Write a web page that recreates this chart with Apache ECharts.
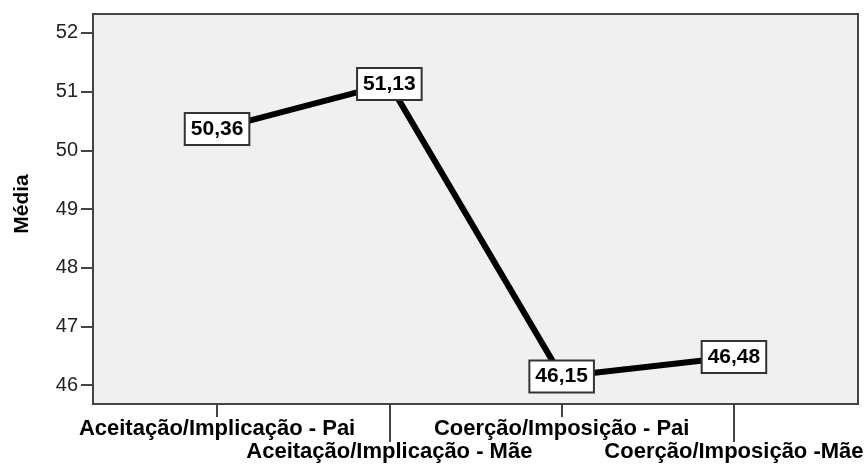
<!DOCTYPE html>
<html>
<head>
<meta charset="utf-8">
<script src="https://cdn.jsdelivr.net/npm/echarts@6/dist/echarts.min.js"></script>
<style>
    html, body { margin: 0; padding: 0; background: #fff; }
    #chart { width: 868px; height: 468px; }
</style>
</head>
<body>
<div id="chart"></div>
<script>
// dados do gráfico
var categorias = ['Aceitação/Implicação - Pai', 'Aceitação/Implicação - Mãe', 'Coerção/Imposição - Pai', 'Coerção/Imposição -Mãe'];
var medias = [50.36, 51.13, 46.15, 46.48];
var yTicks = [46, 47, 48, 49, 50, 51, 52];
var xTicks = [0, 1, 2, 3];
var xTicksLinha1 = [0, 2];   // rótulos na primeira linha
var xTicksLinha2 = [1, 3];   // rótulos na segunda linha

initChart();

function initChart(){
    var myChart = echarts.init(document.getElementById('chart'));

    var pontos = [];
    for (var i = 0; i < medias.length; i++) {
        pontos.push([i, medias[i]]);
    }

    var rotulo = function (v) {
        return categorias[Math.round(v)];
    };

    var option = {
        animation: false,
        textStyle: { fontFamily: 'Liberation Sans, Arial, sans-serif' },
        grid: {
            left: 93,
            right: 10,
            top: 14,
            bottom: 64,
            show: true,
            backgroundColor: '#f0f0f0',
            borderColor: '#444',
            borderWidth: 2
        },
        xAxis: [
            {
                type: 'value',
                min: -0.72,
                max: 3.72,
                splitLine: { show: false },
                axisLine: { show: true, onZero: false, lineStyle: { color: '#444', width: 2 } },
                axisTick: {
                    show: true,
                    length: 13,
                    customValues: xTicks,
                    lineStyle: { color: '#444', width: 2 }
                },
                axisLabel: {
                    customValues: xTicksLinha1,
                    showMinLabel: true,
                    showMaxLabel: true,
                    hideOverlap: false,
                    margin: 14,
                    color: '#000',
                    fontSize: 22,
                    fontWeight: 'bold',
                    formatter: rotulo
                }
            },
            {
                // segunda linha de rótulos, com ticks compridos
                type: 'value',
                min: -0.72,
                max: 3.72,
                position: 'bottom',
                splitLine: { show: false },
                axisLine: { show: false, onZero: false },
                axisTick: {
                    show: true,
                    length: 38,
                    customValues: xTicksLinha2,
                    lineStyle: { color: '#444', width: 2 }
                },
                axisLabel: {
                    customValues: xTicksLinha2,
                    showMinLabel: true,
                    showMaxLabel: true,
                    hideOverlap: false,
                    margin: 37,
                    color: '#000',
                    fontSize: 22,
                    fontWeight: 'bold',
                    formatter: rotulo
                }
            }
        ],
        yAxis: {
            type: 'value',
            min: 45.68,
            max: 52.32,
            name: 'Média',
            nameLocation: 'middle',
            nameGap: 60,
            nameRotate: 90,
            nameTextStyle: { fontSize: 21, fontWeight: 'bold', color: '#000', padding: [0, 0, 0, 10] },
            splitLine: { show: false },
            axisLine: { show: true, onZero: false, lineStyle: { color: '#444', width: 2 } },
            axisTick: {
                show: true,
                length: 12,
                customValues: yTicks,
                lineStyle: { color: '#444', width: 2 }
            },
            axisLabel: {
                customValues: yTicks,
                showMinLabel: true,
                showMaxLabel: true,
                margin: 15,
                color: '#222',
                fontSize: 20
            }
        },
        series: [
            {
                type: 'line',
                data: pontos,
                symbol: 'circle',
                symbolSize: 1,
                lineStyle: { color: '#000', width: 6 },
                itemStyle: { color: '#000' },
                label: {
                    show: true,
                    position: 'inside',
                    backgroundColor: '#fff',
                    borderColor: '#333',
                    borderWidth: 2,
                    padding: [5, 5, 4, 5],
                    color: '#000',
                    fontSize: 21,
                    fontWeight: 'bold',
                    formatter: function (p) {
                        return p.value[1].toFixed(2).replace('.', ',');
                    }
                }
            }
        ]
    };

    myChart.setOption(option);
}
</script>
</body>
</html>
